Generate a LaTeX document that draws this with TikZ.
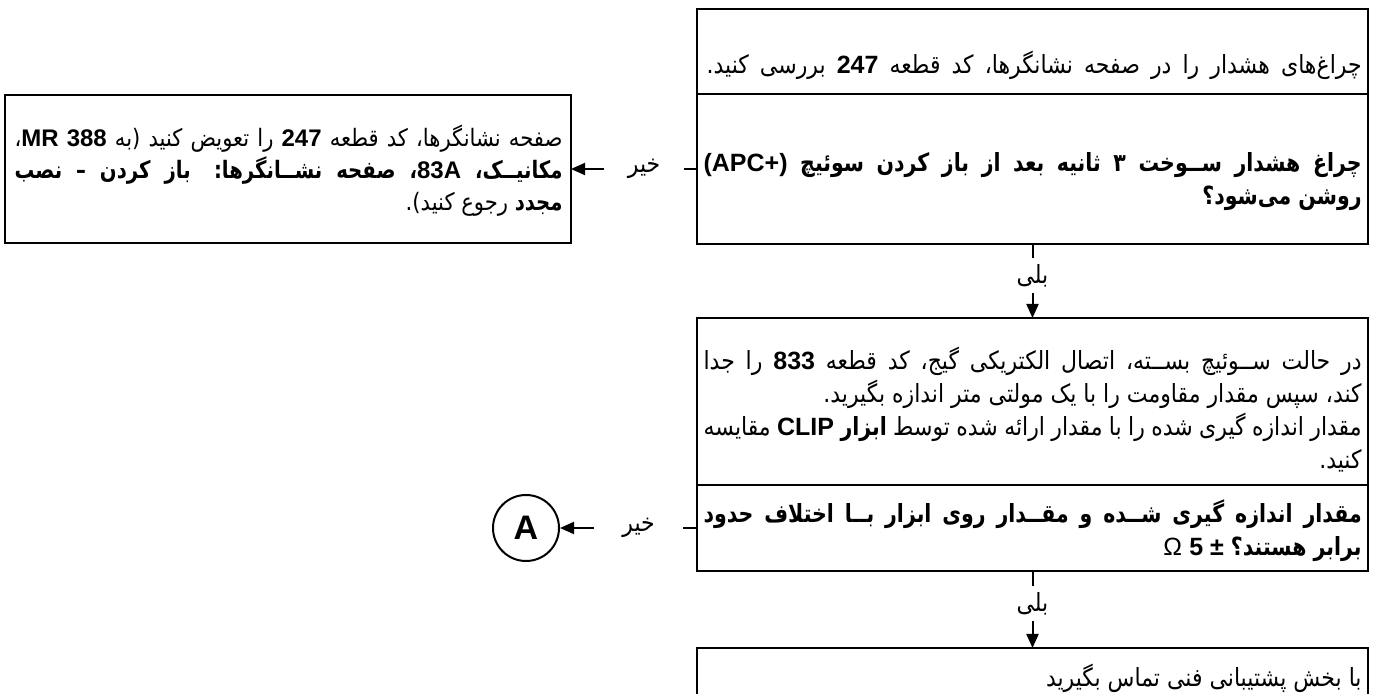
\documentclass[tikz,border=0pt]{standalone}
\usepackage{fontspec}
\usetikzlibrary{positioning,arrows.meta}
\TeXXeTstate=1
\newfontfamily\farsiFont[Script=Arabic,FakeStretch=0.88,BoldFeatures={FakeStretch=0.82}]{DejaVu Sans}
\newfontfamily\latinFont{Liberation Sans}
\newcommand{\latb}[1]{\beginL{\latinFont\bfseries #1}\endL}
\newcommand{\fullLine}[2]{\hbox to #1{#2}}
\tikzstyle{pixelGrid} = [x=0.5pt, y=-0.5pt]
\tikzstyle{boxStyle} = [draw, line width=1.3pt, inner sep=0pt, outer sep=0pt, minimum width=335.5pt]
\tikzstyle{boxText} = [anchor=east, align=right, inner sep=0pt, font=\farsiFont\fontsize{12.5}{16.5}\selectfont]
\tikzstyle{answerText} = [inner sep=0pt, font=\farsiFont\fontsize{12.5}{14}\selectfont]
\tikzstyle{circleA} = [draw, circle, line width=1pt, minimum size=33pt, inner sep=0pt, font=\latinFont\bfseries\fontsize{17}{17}\selectfont]
\tikzstyle{flowLine} = [line width=1pt]
\tikzstyle{flowArrow} = [line width=1pt, -{Triangle[length=7pt,width=6pt]}]

\begin{document}
\begin{tikzpicture}[pixelGrid]
  \useasboundingbox (0,0) rectangle (1373,694);
  \clip (0,0) rectangle (1373,694);
  % boxes
  \node[boxStyle, minimum height=42.5pt] (checkLamps) at (1032.5,51.5) {};
  \node[boxStyle, minimum height=75pt, below=0pt of checkLamps] (fuelLamp) {};
  \node[boxStyle, minimum width=283pt, minimum height=74pt, left=63pt of fuelLamp] (replacePanel) {};
  \node[boxStyle, minimum height=83.5pt, below=37pt of fuelLamp] (measureGauge) {};
  \node[boxStyle, minimum height=43pt, below=0pt of measureGauge] (compareValue) {};
  \node[boxStyle, minimum height=38pt, below=38.5pt of compareValue] (callSupport) {};
  \node[circleA, left=68.5pt of compareValue] (pointA) {A};
  % texts
  \node[boxText] (checkLampsText) at ([xshift=-3pt, yshift=-7pt]checkLamps.east)
    {\fullLine{327.5pt}{\beginR چراغ‌های هشدار را در صفحه نشانگرها، کد قطعه \latb{247} بررسی کنید.\endR}};
  \node[boxText, font=\farsiFont\bfseries\fontsize{12.5}{16.5}\selectfont] (fuelLampText) at ([xshift=-3pt, yshift=-6.5pt]fuelLamp.east)
    {\fullLine{329pt}{\beginR چراغ هشدار ســوخت ۳ ثانیه بعد از باز کردن سوئیچ \latb{(APC+)}\endR}\\
     \beginR روشن می‌شود؟\endR};
  \node[boxText, font=\farsiFont\fontsize{12}{16}\selectfont] (replacePanelText) at ([xshift=-4pt, yshift=-1pt]replacePanel.east)
    {\fullLine{274pt}{\beginR صفحه نشانگرها، کد قطعه \latb{247} را تعویض کنید (به \latb{MR 388}،\endR}\\
     \fullLine{274pt}{\beginR{\bfseries مکانیــک، \latb{83A}، صفحه نشــانگرها: باز کردن – نصب}\endR}\\
     \beginR{\bfseries مجدد} رجوع کنید).\endR};
  \node[boxText] (measureGaugeText) at ([xshift=-3pt, yshift=-4pt]measureGauge.east)
    {\fullLine{329pt}{\beginR در حالت ســوئیچ بســته، اتصال الکتریکی گیج، کد قطعه \latb{833} را جدا\endR}\\
     \beginR کند، سپس مقدار مقاومت را با یک مولتی متر اندازه بگیرید.\endR\\
     \fullLine{329pt}{\beginR مقدار اندازه گیری شده را با مقدار ارائه شده توسط {\bfseries ابزار \latb{CLIP}} مقایسه\endR}\\
     \beginR کنید.\endR};
  \node[boxText, font=\farsiFont\bfseries\fontsize{12.5}{16.5}\selectfont] (compareValueText) at ([xshift=-3pt, yshift=-1.5pt]compareValue.east)
    {\fullLine{329pt}{\beginR مقدار اندازه گیری شــده و مقــدار روی ابزار بــا اختلاف حدود\endR}\\
     \beginR برابر هستند؟ \beginL{\latinFont\mdseries Ω} \latb{5 ±}\endL\endR};
  \node[boxText, anchor=north east] (callSupportText) at ([xshift=-3pt, yshift=-8pt]callSupport.north east)
    {\beginR با بخش پشتیبانی فنی تماس بگیرید\endR};
  % answers
  \node[answerText, minimum width=39.5pt, left=6.5pt of fuelLamp.west] (noFirst) {\beginR خیر\endR};
  \node[answerText, minimum width=44pt, left=7pt of compareValue.west] (noSecond) {\beginR خیر\endR};
  \node[answerText, minimum height=17pt, below=7pt of fuelLamp.south] (yesFirst) {\beginR بلی\endR};
  \node[answerText, minimum height=17pt, below=7.5pt of compareValue.south] (yesSecond) {\beginR بلی\endR};
  % connectors
  \draw[flowLine] (fuelLamp.west) -- (noFirst.east);
  \draw[flowArrow] (noFirst.west) -- (replacePanel.east);
  \draw[flowLine] (compareValue.west) -- (noSecond.east);
  \draw[flowArrow] (noSecond.west) -- (pointA.east);
  \draw[flowLine] (fuelLamp.south) -- (yesFirst.north);
  \draw[flowArrow] (yesFirst.south) -- (measureGauge.north);
  \draw[flowLine] (compareValue.south) -- (yesSecond.north);
  \draw[flowArrow] (yesSecond.south) -- (callSupport.north);
\end{tikzpicture}
\end{document}
